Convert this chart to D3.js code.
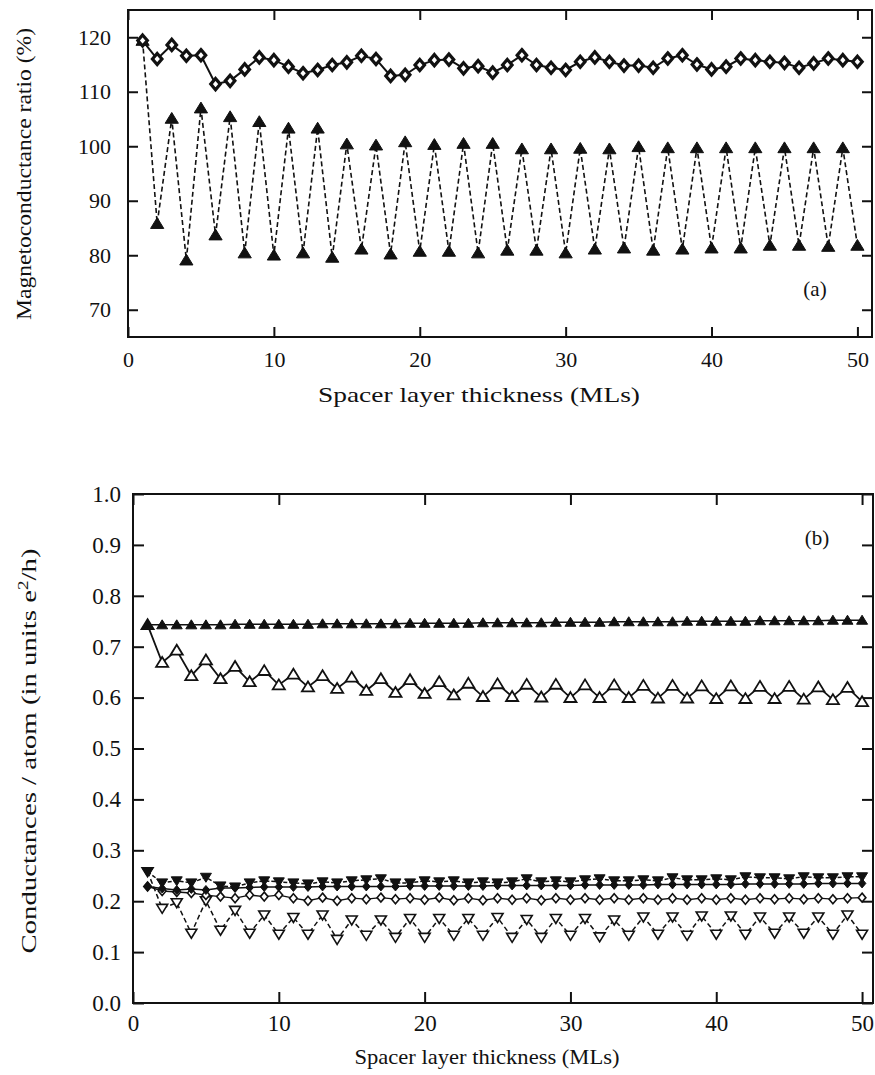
<!DOCTYPE html>
<html><head><meta charset="utf-8">
<script src="https://cdn.jsdelivr.net/npm/d3@7"></script>
<style>body{margin:0;background:#fff}svg{display:block}text{font-family:"Liberation Serif","Times New Roman",Tinos,serif;fill:#111}</style>
</head><body>
<script>
// ---------------- DATA ----------------
const thickness = [1,2,3,4,5,6,7,8,9,10,11,12,13,14,15,16,17,18,19,20,21,22,23,24,25,26,27,28,29,30,31,32,33,34,35,36,37,38,39,40,41,42,43,44,45,46,47,48,49,50];

// panel (a): magnetoconductance ratio (%)
const ratioDiamond = [119.4,116.0,118.6,116.6,116.7,111.4,112.0,114.1,116.3,115.8,114.6,113.4,114.0,114.9,115.4,116.6,116.0,112.9,113.1,114.9,115.8,115.9,114.3,114.7,113.5,114.9,116.7,114.9,114.4,114.0,115.5,116.3,115.5,114.8,114.8,114.4,116.1,116.7,115.0,114.1,114.6,116.1,115.8,115.5,115.3,114.4,115.2,116.1,115.8,115.5];
const ratioTriangle = [119.4,85.8,105.1,79.1,107.0,83.7,105.4,80.4,104.5,80.0,103.3,80.4,103.3,79.6,100.4,81.1,100.2,80.2,100.8,80.7,100.3,80.7,100.5,80.4,100.5,80.9,99.5,80.9,99.5,80.4,99.6,81.1,99.5,81.3,99.9,80.9,99.7,81.1,99.7,81.3,99.7,81.3,99.7,81.8,99.7,81.8,99.7,81.6,99.7,81.8];

// panel (b): conductances / atom (e^2/h)
const condUpFilled = [0.743,0.743,0.743,0.743,0.743,0.743,0.744,0.744,0.744,0.744,0.744,0.744,0.745,0.745,0.745,0.745,0.745,0.745,0.746,0.746,0.746,0.746,0.746,0.747,0.747,0.747,0.747,0.747,0.748,0.748,0.748,0.748,0.749,0.749,0.749,0.749,0.749,0.750,0.750,0.750,0.750,0.750,0.751,0.751,0.751,0.751,0.751,0.752,0.752,0.752];
const condUpOpen = [0.743,0.669,0.693,0.643,0.674,0.637,0.661,0.631,0.653,0.625,0.646,0.621,0.643,0.618,0.640,0.614,0.637,0.610,0.635,0.608,0.631,0.605,0.628,0.602,0.627,0.602,0.626,0.601,0.626,0.600,0.625,0.600,0.625,0.600,0.624,0.599,0.624,0.599,0.623,0.598,0.623,0.598,0.622,0.598,0.622,0.597,0.621,0.596,0.620,0.592];
const condDownFilled = [0.258,0.236,0.240,0.236,0.247,0.230,0.228,0.236,0.240,0.238,0.236,0.234,0.238,0.236,0.240,0.242,0.244,0.236,0.236,0.240,0.238,0.240,0.236,0.238,0.236,0.238,0.244,0.238,0.240,0.238,0.242,0.244,0.240,0.240,0.242,0.240,0.246,0.242,0.242,0.244,0.242,0.248,0.246,0.246,0.244,0.248,0.246,0.246,0.248,0.248];
const condDiamondFilled = [0.229,0.225,0.222,0.224,0.222,0.226,0.226,0.227,0.228,0.228,0.228,0.228,0.229,0.229,0.229,0.229,0.229,0.229,0.230,0.230,0.230,0.230,0.230,0.230,0.231,0.231,0.231,0.231,0.231,0.231,0.232,0.232,0.232,0.232,0.232,0.233,0.233,0.233,0.233,0.233,0.233,0.234,0.234,0.234,0.234,0.234,0.235,0.235,0.235,0.235];
const condDiamondOpen = [0.229,0.220,0.218,0.216,0.212,0.209,0.206,0.212,0.209,0.212,0.206,0.201,0.207,0.201,0.206,0.204,0.207,0.204,0.206,0.203,0.207,0.202,0.206,0.202,0.206,0.203,0.206,0.202,0.206,0.203,0.206,0.203,0.206,0.203,0.206,0.203,0.206,0.203,0.206,0.203,0.206,0.203,0.206,0.204,0.206,0.204,0.206,0.204,0.206,0.207];
const condDownOpen = [0.258,0.186,0.197,0.137,0.201,0.143,0.182,0.137,0.173,0.135,0.168,0.135,0.173,0.125,0.163,0.133,0.163,0.129,0.166,0.129,0.166,0.133,0.166,0.133,0.168,0.129,0.164,0.129,0.166,0.133,0.166,0.130,0.163,0.133,0.169,0.135,0.169,0.133,0.171,0.135,0.171,0.135,0.169,0.137,0.169,0.137,0.169,0.135,0.173,0.135];

const xTicks = [0,10,20,30,40,50];
const yTicksA = [70,80,90,100,110,120];
const yTicksB = [0.0,0.1,0.2,0.3,0.4,0.5,0.6,0.7,0.8,0.9,1.0];

// ---------------- DRAW ----------------
const W = 875, H = 1075;
const svg = d3.select("body").append("svg").attr("width", W).attr("height", H);

function triUp(s){return `M0,${-s}L${s*1.1},${s*0.8}L${-s*1.1},${s*0.8}Z`;}
function triDown(s){return `M0,${s}L${s*1.1},${-s*0.8}L${-s*1.1},${-s*0.8}Z`;}
function diamond(s){return `M0,${-s}L${s*0.85},0L0,${s}L${-s*0.85},0Z`;}

function panel(o){
  const g = svg.append("g");
  const x = d3.scaleLinear().domain(o.xDom).range([o.left, o.right]);
  const y = d3.scaleLinear().domain(o.yDom).range([o.bottom, o.top]);
  const tl = o.tickLen;
  const ax = [
    [d3.axisBottom(x).tickValues(xTicks).tickSize(-tl).tickPadding(o.xPad), `translate(0,${o.bottom})`],
    [d3.axisTop(x).tickValues(xTicks).tickSize(-tl).tickFormat(""), `translate(0,${o.top})`],
    [d3.axisLeft(y).tickValues(o.yTicks).tickSize(-tl).tickPadding(o.yPad).tickFormat(o.yFmt), `translate(${o.left},0)`],
    [d3.axisRight(y).tickValues(o.yTicks).tickSize(-tl).tickFormat(""), `translate(${o.right},0)`]
  ];
  ax.forEach(([a,t])=>{
    const ag = g.append("g").attr("transform", t).call(a);
    ag.select(".domain").remove();
    ag.selectAll("line").attr("stroke","#111").attr("stroke-width",2);
    ag.selectAll("text").attr("font-size", o.fs).attr("fill","#111");
  });
  g.append("rect").attr("x",o.left).attr("y",o.top).attr("width",o.right-o.left).attr("height",o.bottom-o.top)
    .attr("fill","none").attr("stroke","#111").attr("stroke-width",2);
  return {g,x,y};
}

function series(P, vals, opt){
  const data = thickness.map((t,i)=>({t, v: vals[i]}));
  const line = d3.line().x(d=>P.x(d.t)).y(d=>P.y(d.v));
  P.g.append("path").datum(data).attr("d", line).attr("fill","none").attr("stroke","#111")
    .attr("stroke-width", opt.lw||1.6).attr("stroke-dasharray", opt.dash||null);
}
function markers(P, vals, opt){
  const data = thickness.map((t,i)=>({t, v: vals[i]}));
  P.g.append("g").selectAll("path").data(data).join("path")
    .attr("transform", d=>`translate(${P.x(d.t)},${P.y(d.v)})`)
    .attr("d", opt.shape(opt.size))
    .attr("fill", opt.fill).attr("stroke","#111").attr("stroke-width", opt.sw||1.4);
}

// ---- Panel (a)
const A = panel({xDom:[0,51], yDom:[65,125], left:128, right:872, top:10, bottom:337,
  tickLen:10, xPad:14, yPad:17, fs:22, yTicks:yTicksA, yFmt:d3.format("d")});
series(A, ratioTriangle, {dash:"5,3", lw:1.6});
series(A, ratioDiamond, {lw:2});
markers(A, ratioTriangle, {shape:triUp, size:6, fill:"#111", sw:1});
markers(A, ratioDiamond, {shape:diamond, size:5.6, fill:"#fff", sw:3.2});

svg.append("text").attr("x",815).attr("y",296).attr("text-anchor","middle").attr("font-size",21).text("(a)");
svg.append("text").attr("x",479).attr("y",402).attr("text-anchor","middle").attr("font-size",22)
  .attr("textLength",322).attr("lengthAdjust","spacingAndGlyphs").text("Spacer layer thickness  (MLs)");
svg.append("text").attr("transform","translate(31,174) rotate(-90)").attr("text-anchor","middle").attr("font-size",22)
  .attr("textLength",292).attr("lengthAdjust","spacingAndGlyphs").text("Magnetoconductance ratio  (%)");

// ---- Panel (b)
const B = panel({xDom:[0,50.75], yDom:[0,1], left:133, right:873, top:494, bottom:1003,
  tickLen:11, xPad:12, yPad:12, fs:23, yTicks:yTicksB, yFmt:d3.format(".1f")});
series(B, condUpFilled, {lw:1.6});
series(B, condUpOpen, {lw:1.8});
series(B, condDownOpen, {dash:"5,3", lw:1.5});
series(B, condDiamondOpen, {lw:1.4});
series(B, condDownFilled, {dash:"4,2", lw:1.5});
series(B, condDiamondFilled, {lw:1.5});
markers(B, condUpOpen, {shape:triUp, size:5.5, fill:"#fff", sw:1.8});
markers(B, condDownOpen, {shape:triDown, size:5, fill:"#fff", sw:1.6});
markers(B, condDiamondOpen, {shape:diamond, size:4.5, fill:"#fff", sw:1.6});
markers(B, condDiamondFilled, {shape:diamond, size:4.5, fill:"#111", sw:1});
markers(B, condDownFilled, {shape:triDown, size:5, fill:"#111", sw:1});
markers(B, condUpFilled, {shape:triUp, size:5, fill:"#111", sw:1});

svg.append("text").attr("x",817).attr("y",545).attr("text-anchor","middle").attr("font-size",21).text("(b)");
svg.append("text").attr("x",487).attr("y",1064).attr("text-anchor","middle").attr("font-size",22)
  .attr("textLength",265).attr("lengthAdjust","spacingAndGlyphs").text("Spacer layer thickness  (MLs)");
const yl = svg.append("text").attr("transform","translate(36,751) rotate(-90)").attr("text-anchor","middle").attr("font-size",21)
  .attr("textLength",405).attr("lengthAdjust","spacingAndGlyphs");
yl.append("tspan").text("Conductances / atom  (in units e");
yl.append("tspan").attr("font-size",14).attr("dy",-8).text("2");
yl.append("tspan").attr("dy",8).text("/h)");
</script>
</body></html>
